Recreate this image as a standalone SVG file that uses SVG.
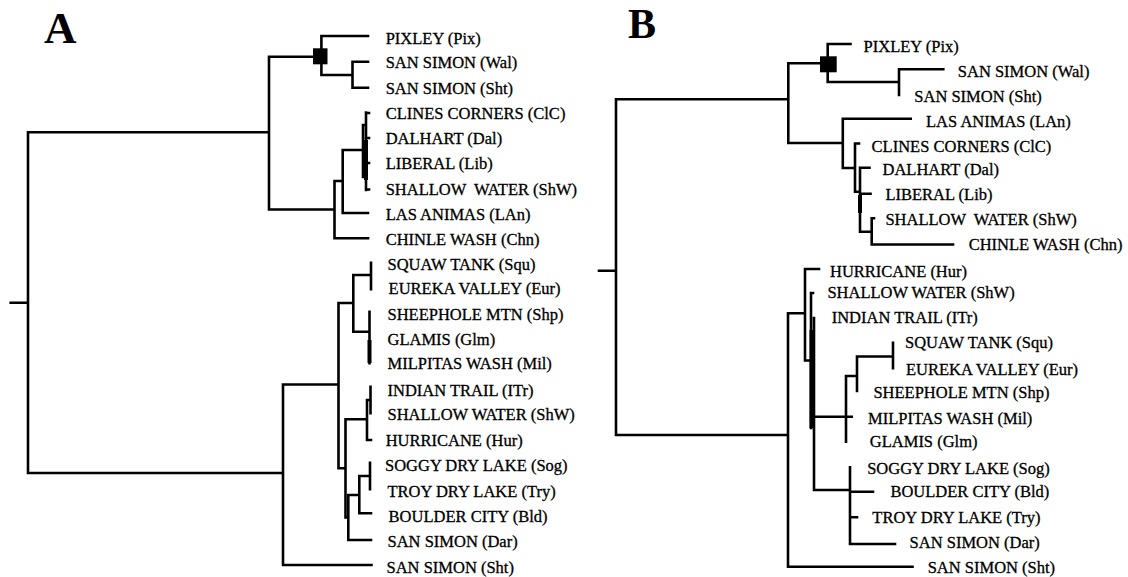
<svg xmlns="http://www.w3.org/2000/svg" width="1128" height="577" viewBox="0 0 1128 577">
<style>
.br{fill:none;stroke:#000;stroke-width:2.6;stroke-linecap:square}
.thk{fill:none;stroke:#000;stroke-width:4}
.lb{font-family:"Liberation Serif","Times New Roman",serif;font-size:16.5px;fill:#000;stroke:#000;stroke-width:0.3}
.ttl{font-family:"Liberation Serif","Times New Roman",serif;font-size:45px;font-weight:bold;fill:#000}
.sq{fill:#000}
</style>
<rect width="1128" height="577" fill="#fff"/>
<text class="ttl" x="44" y="42.5">A</text>
<text class="ttl" x="628" y="38" font-size="42" style="font-size:42px">B</text>

<g id="connectors">
<path class="br" d="M10.7,302.7H28M28,132.3V473M28,132.3H269M269,56.7V209.5M269,56.7H313
M321.4,36V75M321.4,36H368M321.4,75H352.5M352.5,61.7V87.7M352.5,61.7H368M352.5,87.7H368
M269,209.5H334.5M334.5,181V238.3M334.5,238.3H368M334.5,181H342.7M342.7,150V213M342.7,213H368M342.7,150H363
M363,125V177M363,125H366M363,177H366M366,112.5V190M366,113H369M366,138H369M366,163H369M366,189.5H369
M28,473H283M283,384.5V565M283,565H371.5M283,384.5H338.5M338.5,303V468.3M338.5,303H353.3
M353.3,275V331.7M353.3,275H371M371,262.7V289.3M353.3,331.7H369.5M369.5,311.7V363.3
M338.5,468.3H345.5M345.5,419.3V517.5M345.5,419.3H367M367,400V440M367,440H371M367,400H370.5M370.5,386.7V413.3
M345.5,517.5H348.3M348.3,495V540M348.3,540H371M348.3,495H359.3M359.3,476V513.3M359.3,513.3H371M359.3,476H370M370,462.7V489.3"/>
<path class="thk" d="M369.5,340V363M366,140V180"/>
<path class="br" d="M599,270.7H616M616,99.3V435M616,99.3H788.3M788.3,63.3V143M788.3,63.3H820
M827.7,44V82M827.7,44H850.5M827.7,82H899M899,69.3V95M899,69.3H943.3
M788.3,143H842.8M842.8,118.8V168M842.8,118.8H910.7M842.8,168H855M855,143.5V191.7M855,143.5H859M855,191.7H860
M860,167.8V231.7M860,167.8H869.5M860,193.8H870.5M860,231.7H871.7M871.7,218.3V244.5M871.7,218.3H874M871.7,244.5H953
M616,435H788M788,313.3V566.7M788,566.7H912.5M788,313.3H805M805,269V360.5M805,269H819M805,360.5H811
M811,293V428M811,293H813M814,318V490M814,490H850M850,467.3V544M850,491.7H873M850,517.3H857M850,544H895
M814,416.7H846M846,376V441.7M846,416.7H851.7M846,376H857M857,356.5V391M857,356.5H893M893,342.7V368.3"/>
<path class="thk" d="M860,195V213M811.5,330V428"/>
</g>

<g id="nodeA_pix_sq"><rect class="sq" x="313" y="48.3" width="14.5" height="16"/></g>
<g id="nodeB_pix_sq"><rect class="sq" x="820" y="56.3" width="16.7" height="16"/></g>

<g id="A_Pix"><text class="lb" x="385.7" y="44">PIXLEY (Pix)</text></g>
<g id="A_Wal"><text class="lb" x="385.7" y="68">SAN SIMON (Wal)</text></g>
<g id="A_Sht1"><text class="lb" x="385.7" y="93.5">SAN SIMON (Sht)</text></g>
<g id="A_ClC"><text class="lb" x="385.7" y="118.5">CLINES CORNERS (ClC)</text></g>
<g id="A_Dal"><text class="lb" x="385.7" y="143.5">DALHART (Dal)</text></g>
<g id="A_Lib"><text class="lb" x="385.7" y="168.5">LIBERAL (Lib)</text></g>
<g id="A_ShW1"><text class="lb" x="385.7" y="195" xml:space="preserve">SHALLOW  WATER (ShW)</text></g>
<g id="A_LAn"><text class="lb" x="385.7" y="220">LAS ANIMAS (LAn)</text></g>
<g id="A_Chn"><text class="lb" x="385.7" y="245">CHINLE WASH (Chn)</text></g>
<g id="A_Squ"><text class="lb" x="387.5" y="270">SQUAW TANK (Squ)</text></g>
<g id="A_Eur"><text class="lb" x="388.6" y="294">EUREKA VALLEY (Eur)</text></g>
<g id="A_Shp"><text class="lb" x="387.5" y="320">SHEEPHOLE MTN (Shp)</text></g>
<g id="A_Glm"><text class="lb" x="387.5" y="345">GLAMIS (Glm)</text></g>
<g id="A_Mil"><text class="lb" x="387.5" y="369">MILPITAS WASH (Mil)</text></g>
<g id="A_ITr"><text class="lb" x="387.5" y="396">INDIAN TRAIL (ITr)</text></g>
<g id="A_ShW2"><text class="lb" x="387.5" y="420">SHALLOW WATER (ShW)</text></g>
<g id="A_Hur"><text class="lb" x="385.7" y="445.5">HURRICANE (Hur)</text></g>
<g id="A_Sog"><text class="lb" x="385" y="471">SOGGY DRY LAKE (Sog)</text></g>
<g id="A_Try"><text class="lb" x="387.5" y="496.5">TROY DRY LAKE (Try)</text></g>
<g id="A_Bld"><text class="lb" x="388.6" y="521.5">BOULDER CITY (Bld)</text></g>
<g id="A_Dar"><text class="lb" x="387.5" y="547">SAN SIMON (Dar)</text></g>
<g id="A_Sht2"><text class="lb" x="386.5" y="572.5">SAN SIMON (Sht)</text></g>

<g id="B_Pix"><text class="lb" x="863.6" y="51.7">PIXLEY (Pix)</text></g>
<g id="B_Wal"><text class="lb" x="957.8" y="77.3">SAN SIMON (Wal)</text></g>
<g id="B_Sht1"><text class="lb" x="914.3" y="101.7">SAN SIMON (Sht)</text></g>
<g id="B_LAn"><text class="lb" x="926" y="126.7">LAS ANIMAS (LAn)</text></g>
<g id="B_ClC"><text class="lb" x="871.6" y="151.7">CLINES CORNERS (ClC)</text></g>
<g id="B_Dal"><text class="lb" x="882.5" y="175">DALHART (Dal)</text></g>
<g id="B_Lib"><text class="lb" x="885.4" y="200">LIBERAL (Lib)</text></g>
<g id="B_ShW1"><text class="lb" x="885.4" y="225" xml:space="preserve">SHALLOW  WATER (ShW)</text></g>
<g id="B_Chn"><text class="lb" x="968.7" y="250">CHINLE WASH (Chn)</text></g>
<g id="B_Hur"><text class="lb" x="830" y="276.7">HURRICANE (Hur)</text></g>
<g id="B_ShW2"><text class="lb" x="827.4" y="298.3">SHALLOW WATER (ShW)</text></g>
<g id="B_ITr"><text class="lb" x="831.7" y="323.3">INDIAN TRAIL (ITr)</text></g>
<g id="B_Squ"><text class="lb" x="905" y="348.3">SQUAW TANK (Squ)</text></g>
<g id="B_Eur"><text class="lb" x="906" y="375">EUREKA VALLEY (Eur)</text></g>
<g id="B_Shp"><text class="lb" x="873.4" y="398.3">SHEEPHOLE MTN (Shp)</text></g>
<g id="B_Mil"><text class="lb" x="868" y="424">MILPITAS WASH (Mil)</text></g>
<g id="B_Glm"><text class="lb" x="869.8" y="446.7">GLAMIS (Glm)</text></g>
<g id="B_Sog"><text class="lb" x="867.2" y="474">SOGGY DRY LAKE (Sog)</text></g>
<g id="B_Bld"><text class="lb" x="890.4" y="497.3">BOULDER CITY (Bld)</text></g>
<g id="B_Try"><text class="lb" x="872.3" y="522.7">TROY DRY LAKE (Try)</text></g>
<g id="B_Dar"><text class="lb" x="909.6" y="548.3">SAN SIMON (Dar)</text></g>
<g id="B_Sht2"><text class="lb" x="927.7" y="573.3">SAN SIMON (Sht)</text></g>
</svg>
